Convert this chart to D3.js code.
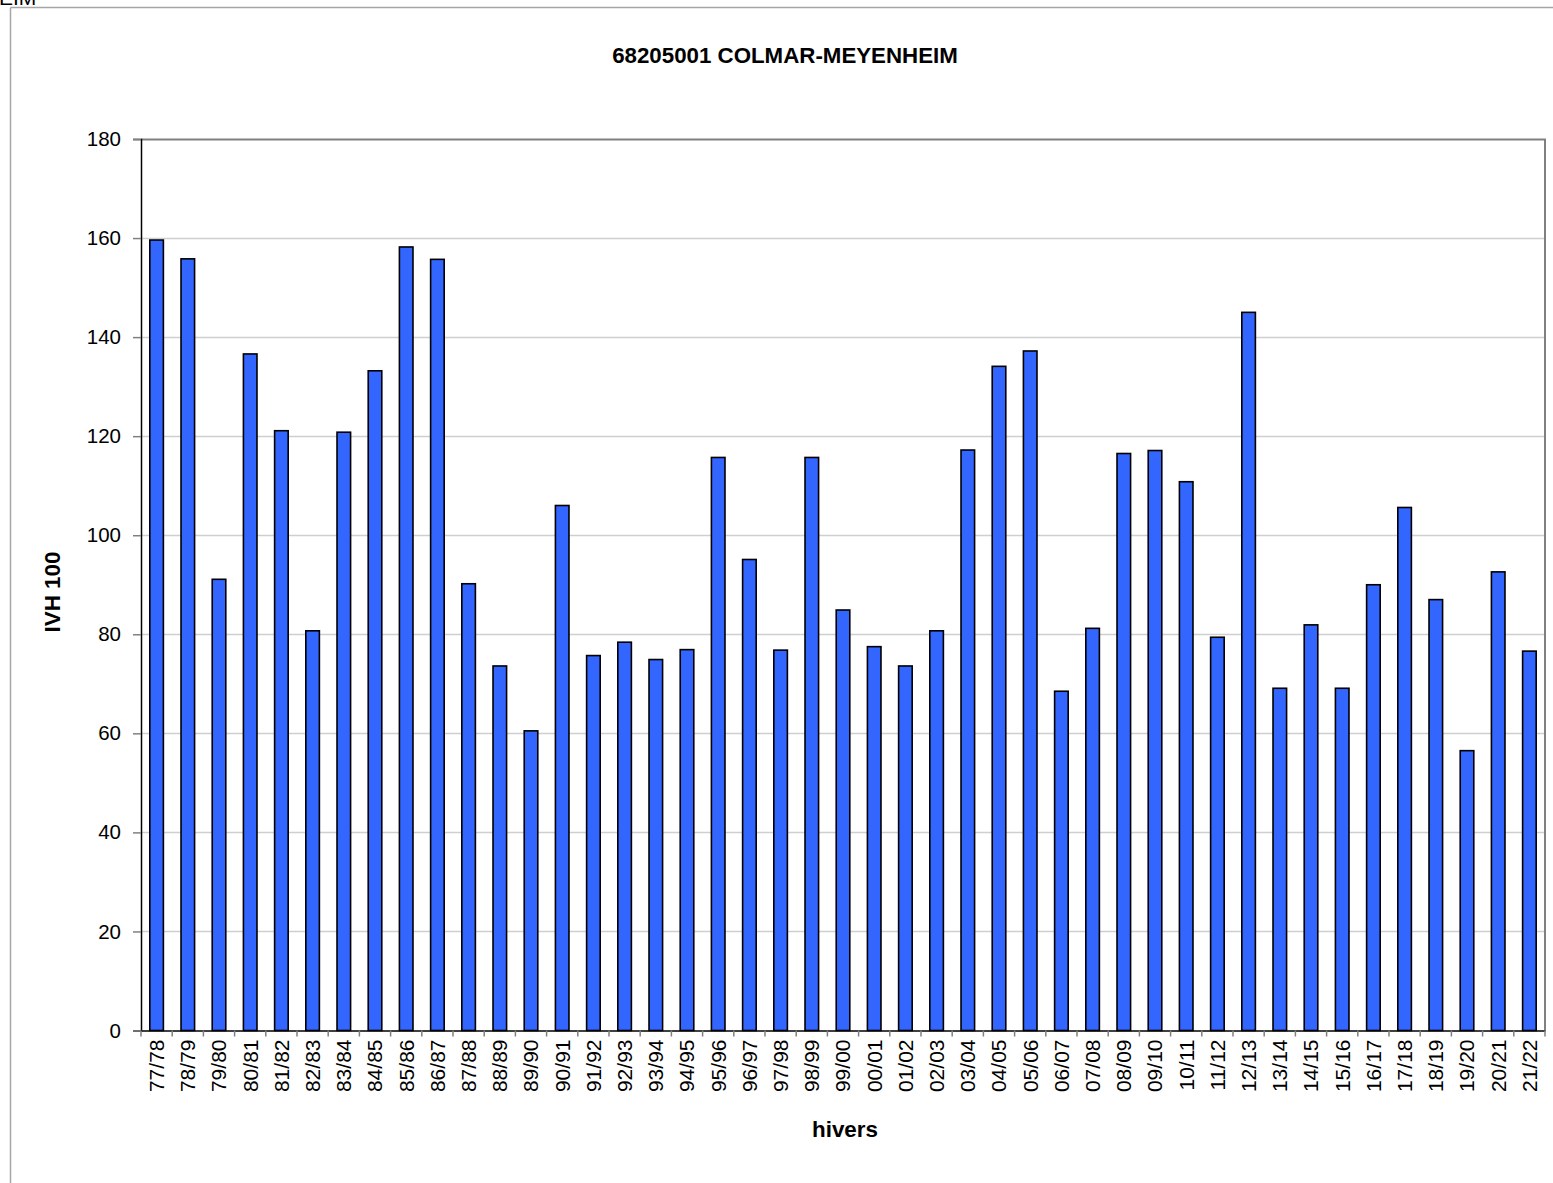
<!DOCTYPE html>
<html>
<head>
<meta charset="utf-8">
<script src="https://cdn.jsdelivr.net/npm/d3@7"></script>
<style>
  html, body { margin: 0; padding: 0; background: #fff; }
  svg { display: block; font-family: Arial, "Liberation Sans", sans-serif; }
</style>
</head>
<body>
<svg id="chart" width="1553" height="1183"></svg>
<script>
// Winter seasons (hivers) and their IVH 100 index
const hivers = ["77/78","78/79","79/80","80/81","81/82","82/83","83/84","84/85","85/86","86/87",
  "87/88","88/89","89/90","90/91","91/92","92/93","93/94","94/95","95/96","96/97",
  "97/98","98/99","99/00","00/01","01/02","02/03","03/04","04/05","05/06","06/07",
  "07/08","08/09","09/10","10/11","11/12","12/13","13/14","14/15","15/16","16/17",
  "17/18","18/19","19/20","20/21","21/22"];
const ivh100 = [159.6,155.8,91.1,136.6,121.1,80.7,120.8,133.2,158.2,155.7,
  90.2,73.6,60.5,106.0,75.7,78.4,74.9,76.9,115.7,95.1,
  76.8,115.7,84.9,77.5,73.6,80.7,117.2,134.1,137.2,68.5,
  81.2,116.5,117.1,110.8,79.4,145.0,69.1,81.9,69.1,90.0,
  105.6,87.0,56.5,92.6,76.6];
const yTicks = [0,20,40,60,80,100,120,140,160,180];

const svg = d3.select("#chart");
const plot = { left: 141, right: 1545, top: 139, bottom: 1030.5 };

// outer frame
svg.append("line").attr("x1",10.5).attr("x2",1553).attr("y1",7.5).attr("y2",7.5)
  .attr("stroke","#a6a6a6").attr("stroke-width",1.5);
svg.append("line").attr("x1",10.5).attr("x2",10.5).attr("y1",7.5).attr("y2",1183)
  .attr("stroke","#a6a6a6").attr("stroke-width",1.5);
svg.append("text").attr("x",-1).attr("y",5).attr("font-size",21).attr("fill","#000").text("EIM");

const x = d3.scaleBand().domain(hivers).range([plot.left, plot.right]).paddingInner(0.565).paddingOuter(0.2825);
const xb = d3.scaleBand().domain(hivers).range([plot.left, plot.right]);
const y = d3.scaleLinear().domain([0,180]).range([plot.bottom, plot.top]);

// horizontal gridlines
svg.append("g").selectAll("line").data(yTicks.filter(d => d > 0 && d < 180)).join("line")
  .attr("x1", plot.left).attr("x2", plot.right)
  .attr("y1", d => Math.round(y(d)) + 0.5).attr("y2", d => Math.round(y(d)) + 0.5)
  .attr("stroke", "#cfcfcf").attr("stroke-width", 1.5);

// plot border top and right
svg.append("path")
  .attr("d", `M${plot.left},${plot.top+0.5}H${plot.right}V${plot.bottom}`)
  .attr("fill","none").attr("stroke","#808080").attr("stroke-width",2);

// bars
svg.append("g").selectAll("rect").data(hivers).join("rect")
  .attr("x", d => x(d))
  .attr("width", x.bandwidth())
  .attr("y", (d,i) => y(ivh100[i]))
  .attr("height", (d,i) => y(0) - y(ivh100[i]))
  .attr("fill", "#3366ff")
  .attr("stroke", "#000").attr("stroke-width", 1.6);

// y axis
const yAxis = svg.append("g").attr("transform", `translate(${plot.left},0)`)
  .call(d3.axisLeft(y).tickValues(yTicks).tickSize(8).tickPadding(12).tickFormat(d3.format("d")));
yAxis.select(".domain").attr("stroke","#000").attr("stroke-width",1.5);
yAxis.selectAll(".tick line").attr("stroke","#808080").attr("stroke-width",1.5);
yAxis.selectAll(".tick text").attr("font-size",20.5).attr("fill","#000").attr("font-family","Arial, 'Liberation Sans', sans-serif");

// x axis
const xAxis = svg.append("g").attr("transform", `translate(0,${plot.bottom})`)
  .call(d3.axisBottom(xb).tickSize(0).tickPadding(0));
xAxis.select(".domain").attr("stroke","#000").attr("stroke-width",1.5);
xAxis.selectAll(".tick text")
  .attr("font-size",21).attr("fill","#000").attr("font-family","Arial, 'Liberation Sans', sans-serif")
  .attr("text-anchor","end").attr("dy","0.35em")
  .attr("transform","translate(0,9) rotate(-90)");
// category boundary ticks
svg.append("g").selectAll("line").data(d3.range(hivers.length + 1)).join("line")
  .attr("x1", i => plot.left + i * xb.step()).attr("x2", i => plot.left + i * xb.step())
  .attr("y1", plot.bottom).attr("y2", plot.bottom + 6)
  .attr("stroke","#808080").attr("stroke-width",1.5);

// titles
svg.append("text").attr("x",785).attr("y",63).attr("text-anchor","middle")
  .attr("font-size",22.3).attr("font-weight","bold").text("68205001 COLMAR-MEYENHEIM");
svg.append("text").attr("x",845).attr("y",1137).attr("text-anchor","middle")
  .attr("font-size",22.4).attr("font-weight","bold").text("hivers");
svg.append("text").attr("transform","translate(60,592) rotate(-90)").attr("text-anchor","middle")
  .attr("font-size",22.4).attr("font-weight","bold").text("IVH 100");
</script>
</body>
</html>
